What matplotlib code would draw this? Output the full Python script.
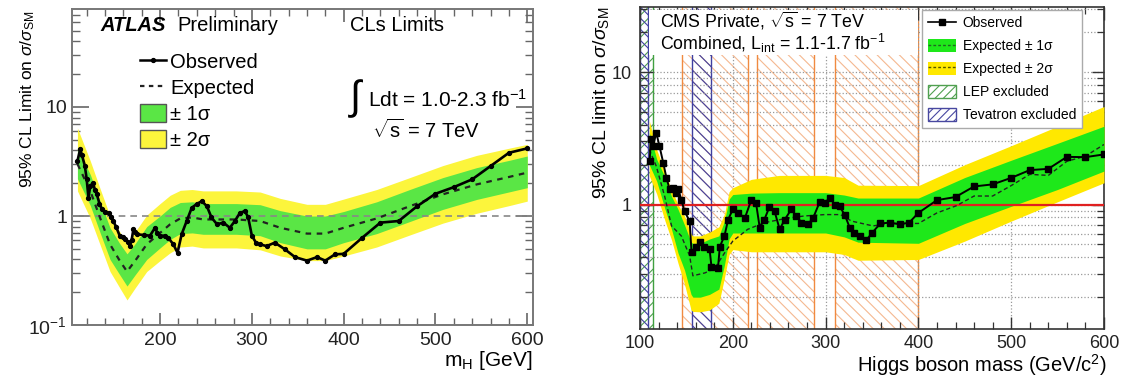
import matplotlib
matplotlib.use('Agg')
import matplotlib.pyplot as plt
import matplotlib.patches as mpatches
from matplotlib.lines import Line2D
from matplotlib.ticker import FixedLocator, FixedFormatter, NullFormatter, MultipleLocator
import numpy as np

plt.rcParams['font.family'] = ['Liberation Sans', 'DejaVu Sans']
plt.rcParams['mathtext.fontset'] = 'custom'
plt.rcParams['mathtext.rm'] = 'Liberation Sans'
plt.rcParams['mathtext.it'] = 'Liberation Sans:italic'
plt.rcParams['mathtext.bf'] = 'Liberation Sans:bold'
plt.rcParams['hatch.linewidth'] = 0.8

# ---------------- ATLAS (left) ----------------
atlas_obs_m = [110, 113, 115, 118, 120, 122, 124, 127, 129, 131,
               134, 136.5, 140, 144, 147, 149, 152, 156, 160, 162,
               165, 167, 169, 171, 173, 175, 182, 189, 194.5, 197,
               200, 205, 209, 214.5, 219, 223.5, 229, 234.5, 240, 245.5,
               251, 256, 262, 269, 276, 281.5, 287, 292.5, 296, 300,
               305, 309, 316, 325, 336, 347, 360, 371, 380, 390.5,
               400, 420, 440, 460, 480, 500, 520, 540, 560, 580, 600]
atlas_obs = [3.2, 4.1, 3.6, 2.9, 2.2, 1.47, 1.9, 2.0, 1.75, 1.59,
             1.3, 1.16, 1.1, 1.07, 0.98, 0.9, 0.8, 0.66, 0.64, 0.62,
             0.58, 0.53, 0.6, 0.76, 0.72, 0.68, 0.67, 0.66, 0.78, 0.70,
             0.66, 0.66, 0.63, 0.55, 0.46, 0.68, 0.9, 1.19, 1.29, 1.37,
             1.23, 0.97, 0.84, 0.87, 0.78, 0.9, 1.07, 1.11, 0.97, 0.66,
             0.56, 0.55, 0.53, 0.57, 0.495, 0.42, 0.39, 0.42, 0.39, 0.445,
             0.45, 0.63, 0.87, 0.9, 1.23, 1.6, 1.84, 2.17, 2.87, 3.8, 4.17]

atlas_exp_m = [110, 124, 134.5, 145.5, 156, 164, 173, 185.5, 200, 211, 222, 235, 247,
               283, 309, 331, 360, 380, 400, 436, 472, 508, 545, 581, 600]
atlas_exp = [3.0, 1.7, 0.97, 0.55, 0.39, 0.31, 0.39, 0.55, 0.70, 0.84, 0.95, 0.97, 0.93,
             0.93, 0.90, 0.78, 0.69, 0.69, 0.78, 0.95, 1.23, 1.58, 1.95, 2.29, 2.5]
atlas_lo2 = [1.7, 0.95, 0.55, 0.31, 0.22, 0.17, 0.22, 0.31, 0.39, 0.46, 0.52, 0.53, 0.51,
             0.51, 0.49, 0.43, 0.39, 0.39, 0.43, 0.52, 0.67, 0.86, 1.06, 1.25, 1.37]
atlas_lo1 = [2.2, 1.25, 0.71, 0.40, 0.29, 0.228, 0.29, 0.40, 0.51, 0.61, 0.69, 0.70, 0.68,
             0.68, 0.66, 0.57, 0.50, 0.50, 0.57, 0.69, 0.89, 1.15, 1.42, 1.67, 1.82]
atlas_hi1 = [4.2, 2.4, 1.38, 0.78, 0.56, 0.45, 0.56, 0.80, 1.0, 1.2, 1.33, 1.35, 1.30,
             1.30, 1.27, 1.12, 1.0, 1.0, 1.10, 1.35, 1.75, 2.25, 2.78, 3.25, 3.55]
atlas_hi2 = [6.4, 3.2, 1.8, 1.0, 0.72, 0.55, 0.72, 1.02, 1.3, 1.55, 1.72, 1.75, 1.70,
             1.70, 1.66, 1.45, 1.28, 1.28, 1.43, 1.75, 2.25, 2.9, 3.6, 4.2, 4.54]

# ---------------- CMS (right) ----------------
cms_obs_m = [110.5, 111.5, 114, 117.5, 121, 125, 128.5, 132, 135.5, 139,
             141, 144.5, 148, 153.5, 155.5, 160.5, 164.5, 169.5, 175, 177,
             184, 186, 191, 195, 200, 205.5, 213, 220, 225, 229,
             234, 239.5, 245, 250.5, 256, 263, 268.5, 274, 281, 286.5,
             293.5, 299, 304.5, 310, 315, 320.5, 326, 331, 337, 344,
             350, 359, 369, 380, 390, 400, 420, 440, 460, 480,
             500, 520, 540, 560, 580, 600]
cms_obs = [2.12, 3.1, 2.76, 3.48, 2.76, 2.07, 1.59, 1.30, 1.34, 1.22,
           1.32, 1.09, 0.89, 0.75, 0.44, 0.48, 0.52, 0.48, 0.46, 0.34,
           0.33, 0.48, 0.58, 0.77, 0.92, 0.87, 0.79, 1.09, 1.03, 0.67,
           0.77, 0.96, 0.89, 0.65, 0.77, 0.92, 0.82, 0.73, 0.71, 0.79,
           1.04, 1.03, 1.12, 1.0, 0.97, 0.84, 0.67, 0.61, 0.58, 0.54,
           0.61, 0.72, 0.73, 0.71, 0.73, 0.865, 1.08, 1.14, 1.37, 1.42,
           1.59, 1.82, 1.86, 2.29, 2.28, 2.39]

cms_exp_m = [110, 117.5, 126.5, 134, 144.5, 153.5, 157, 170, 180.5, 191,
             200, 216, 234, 259, 277, 299, 316, 328, 351, 369,
             400, 420, 441, 460, 480, 500, 520, 540, 560, 580, 600]
cms_exp = [2.6, 1.95, 1.16, 0.69, 0.58, 0.41, 0.29, 0.305, 0.33, 0.43,
           0.53, 0.65, 0.73, 0.79, 0.82, 0.84, 0.84, 0.75, 0.69, 0.72,
           0.72, 0.865, 0.98, 1.16, 1.16, 1.39, 1.69, 1.66, 2.12, 2.32, 2.84]

cms_band_m = [110, 118, 127, 134, 141, 148, 155, 157, 165, 175, 185, 191, 196, 200,
              220, 250, 300, 320, 335, 400, 450, 500, 550, 600]
cms_hi2 = [4.3, 2.6, 1.75, 1.3, 1.0, 0.82, 0.6, 0.58, 0.58, 0.62, 0.68, 0.85, 1.25, 1.34,
           1.55, 1.66, 1.66, 1.6, 1.4, 1.39, 2.0, 2.78, 3.9, 5.5]
cms_hi1 = [3.5, 2.2, 1.6, 1.15, 0.92, 0.7, 0.52, 0.51, 0.51, 0.55, 0.58, 0.75, 1.1, 1.19,
           1.22, 1.23, 1.23, 1.18, 1.12, 1.12, 1.6, 2.16, 2.9, 3.9]
cms_lo1 = [2.0, 1.5, 0.92, 0.65, 0.43, 0.32, 0.21, 0.2, 0.2, 0.21, 0.23, 0.35, 0.55, 0.61,
           0.61, 0.61, 0.61, 0.57, 0.52, 0.51, 0.72, 0.97, 1.3, 1.79]
cms_lo2 = [1.65, 1.2, 0.75, 0.54, 0.36, 0.25, 0.16, 0.156, 0.155, 0.16, 0.18, 0.28, 0.42, 0.457,
           0.44, 0.44, 0.44, 0.42, 0.38, 0.385, 0.53, 0.75, 1.05, 1.46]

cms_excl = [(145, 216), (226, 288), (310, 400)]
tev_excl = [(100, 109), (156, 177)]
lep_excl = [(100, 114.4)]

fig = plt.figure(figsize=(11.24, 3.78), dpi=100)

# ================= ATLAS =================
ax1 = fig.add_axes([0.064, 0.140, 0.410, 0.836])
a_green = '#5ae645'
a_yellow = '#fcf53c'
ax1.fill_between(atlas_exp_m, atlas_lo2, atlas_hi2, color=a_yellow, lw=0, zorder=2)
ax1.fill_between(atlas_exp_m, atlas_lo1, atlas_hi1, color=a_green, lw=0, zorder=3)
ax1.axhline(1, color='#888888', ls=(0, (4, 3)), lw=1.2, zorder=4)
ax1.plot(atlas_exp_m, atlas_exp, color='#222222', ls=(0, (2.5, 2.5)), lw=1.6, zorder=5)
ax1.plot(atlas_obs_m, atlas_obs, color='black', lw=1.9, marker='o', ms=2.8, zorder=6)

ax1.set_yscale('log')
ax1.set_xlim(104, 606)
ax1.set_ylim(0.1, 79)
ax1.xaxis.set_major_locator(FixedLocator([200, 300, 400, 500, 600]))
ax1.xaxis.set_minor_locator(MultipleLocator(20))
ax1.yaxis.set_major_locator(FixedLocator([0.1, 1, 10]))
ax1.yaxis.set_major_formatter(FixedFormatter(['10$^{-1}$', '1', '10']))
ax1.yaxis.set_minor_locator(FixedLocator([k * 10.0 ** d for d in (-1, 0, 1) for k in range(2, 10)]))
ax1.yaxis.set_minor_formatter(NullFormatter())
ax1.tick_params(which='both', direction='in', top=True, right=True, colors='#666666',
                labelcolor='#222222', labelsize=14)
ax1.tick_params(axis='y', which='major', length=12, width=1.2)
ax1.tick_params(axis='y', which='minor', length=6, width=1.0)
ax1.tick_params(axis='x', which='major', length=9, width=1.2, pad=5)
ax1.tick_params(axis='x', which='minor', length=5, width=1.0)
for s in ax1.spines.values():
    s.set_color('#777777')
    s.set_linewidth(1.4)
ax1.set_ylabel(r'95% CL Limit on $\sigma/\sigma_{\rm SM}$', fontsize=12.5, loc='top')
ax1.yaxis.set_label_coords(-0.076, 0.995)
ax1.set_xlabel(r'm$_{\rm H}$ [GeV]', fontsize=15, loc='right', labelpad=0)

ax1.text(0.061, 0.949, 'ATLAS', transform=ax1.transAxes, fontsize=14.5, fontweight='bold',
         fontstyle='italic', va='center', ha='left')
ax1.text(0.228, 0.949, 'Preliminary', transform=ax1.transAxes, fontsize=14.5, va='center', ha='left')
ax1.text(0.603, 0.949, 'CLs Limits', transform=ax1.transAxes, fontsize=14.5, va='center', ha='left')
ax1.text(0.600, 0.718, r'$\int$', transform=ax1.transAxes, fontsize=29, va='center', ha='left')
ax1.text(0.642, 0.712, 'Ldt = 1.0-2.3 fb$^{-1}$', transform=ax1.transAxes, fontsize=15,
         va='center', ha='left')
ax1.text(0.652, 0.617, r'$\sqrt{\rm s}$ = 7 TeV', transform=ax1.transAxes, fontsize=14.5,
         va='center', ha='left')

h_obs = Line2D([], [], color='black', lw=1.8, marker='o', ms=2.8)
h_exp = Line2D([], [], color='#222222', ls=(0, (2, 2)), lw=1.6)
h_1s = mpatches.Patch(facecolor=a_green, edgecolor='#555555', lw=1.0)
h_2s = mpatches.Patch(facecolor=a_yellow, edgecolor='#555555', lw=1.0)
ax1.legend([h_obs, h_exp, h_1s, h_2s], ['Observed', 'Expected', '± 1σ', '± 2σ'],
           loc='upper left', bbox_to_anchor=(0.13, 0.89), frameon=False, fontsize=14.5,
           handlelength=1.3, handleheight=1.0, handletextpad=0.2, labelspacing=0.3,
           borderaxespad=0)

# ================= CMS =================
ax2 = fig.add_axes([0.5694, 0.1296, 0.4128, 0.852])
c_green = '#1ee81a'
c_yellow = '#ffe800'
orange = '#f08a40'
for lo, hi in cms_excl:
    ax2.axvspan(lo, hi, facecolor='none', edgecolor='#f5b890', hatch='\\\\\\', lw=0, zorder=1)
    ax2.axvline(lo, color=orange, lw=1.0, zorder=1.2)
    ax2.axvline(hi, color=orange, lw=1.0, zorder=1.2)
for lo, hi in lep_excl:
    ax2.axvspan(lo, hi, facecolor='none', edgecolor='#50a050', hatch='///', lw=0, zorder=1)
    ax2.axvline(hi, color='#40a040', lw=1.0, zorder=1.2)
for lo, hi in tev_excl:
    ax2.axvspan(lo, hi, facecolor='none', edgecolor='#4040a0', hatch='\\\\\\', lw=0, zorder=1)
    ax2.axvline(lo, color='#4040a0', lw=1.0, zorder=1.2)
    ax2.axvline(hi, color='#4040a0', lw=1.0, zorder=1.2)

ax2.add_patch(mpatches.Rectangle((0.02, 0.85), 0.58, 0.14, transform=ax2.transAxes,
                                 facecolor='white', edgecolor='none', zorder=2))

ax2.fill_between(cms_band_m, cms_lo2, cms_hi2, color=c_yellow, lw=0, zorder=3)
ax2.fill_between(cms_band_m, cms_lo1, cms_hi1, color=c_green, lw=0, zorder=3.1)
ax2.axhline(1, color='#e02020', lw=1.6, zorder=4)
ax2.plot(cms_exp_m, cms_exp, color='#222222', ls=(0, (3, 2)), lw=1.0, zorder=5)
ax2.plot(cms_obs_m, cms_obs, color='black', lw=1.4, marker='s', ms=4.4, zorder=6)

ax2.set_yscale('log')
ax2.set_xlim(100, 600)
ax2.set_ylim(0.115, 31)
ax2.xaxis.set_major_locator(FixedLocator([100, 200, 300, 400, 500, 600]))
ax2.xaxis.set_minor_locator(MultipleLocator(20))
ax2.yaxis.set_major_locator(FixedLocator([1, 10]))
ax2.yaxis.set_major_formatter(FixedFormatter(['1', '10']))
ax2.yaxis.set_minor_locator(FixedLocator([k * 10.0 ** d for d in (-1, 0, 1) for k in range(2, 10)]))
ax2.yaxis.set_minor_formatter(NullFormatter())
ax2.grid(True, axis='x', which='major', ls=':', color='#999999', lw=0.9)
ax2.grid(True, axis='y', which='both', ls=':', color='#999999', lw=0.9)
ax2.tick_params(which='both', direction='in', top=True, right=True, labelsize=13, colors='#333333',
                labelcolor='#222222')
ax2.tick_params(which='major', length=9, width=1.0, pad=6)
ax2.tick_params(axis='x', which='major', pad=4)
ax2.tick_params(which='minor', length=5, width=0.9)
for s in ax2.spines.values():
    s.set_color('#333333')
    s.set_linewidth(1.2)
ax2.set_ylabel(r'95% CL limit on $\sigma/\sigma_{\rm SM}$', fontsize=14, loc='top')
ax2.yaxis.set_label_coords(-0.062, 1.0)
ax2.set_xlabel(r'Higgs boson mass (GeV/c$^{2}$)', fontsize=14.5)
ax2.xaxis.set_label_coords(1.005, -0.072)
ax2.xaxis.label.set_horizontalalignment('right')

ax2.text(0.043, 0.958, r'CMS Private, $\sqrt{\rm s}$ = 7 TeV', transform=ax2.transAxes, fontsize=12.8,
         va='center', ha='left', zorder=7)
ax2.text(0.043, 0.888, r'Combined, L$_{\rm int}$ = 1.1-1.7 fb$^{-1}$', transform=ax2.transAxes,
         fontsize=12.8, va='center', ha='left', zorder=7)

l_obs = Line2D([], [], color='black', lw=1.2, marker='s', ms=4)
l_1s = (mpatches.Patch(facecolor=c_green, edgecolor='none'),
        Line2D([], [], color='#226622', ls=(0, (2, 1.5)), lw=1.0))
l_2s = (mpatches.Patch(facecolor=c_yellow, edgecolor='none'),
        Line2D([], [], color='#555500', ls=(0, (2, 1.5)), lw=1.0))
l_lep = mpatches.Patch(facecolor='white', edgecolor='#50a050', hatch='////', lw=1.0)
l_tev = mpatches.Patch(facecolor='white', edgecolor='#4848a0', hatch='////', lw=1.0)
leg = ax2.legend([l_obs, l_1s, l_2s, l_lep, l_tev],
                 ['Observed', 'Expected ± 1σ', 'Expected ± 2σ', 'LEP excluded', 'Tevatron excluded'],
                 loc='upper left', bbox_to_anchor=(0.607, 0.992), fontsize=10, fancybox=False,
                 framealpha=1, edgecolor='#aaaaaa', handlelength=2.0, handleheight=1.15,
                 labelspacing=0.6, borderpad=0.45, handletextpad=0.5, borderaxespad=0)
leg.set_zorder(8)
leg.get_frame().set_linewidth(1.0)

fig.savefig('out.png', dpi=100)
